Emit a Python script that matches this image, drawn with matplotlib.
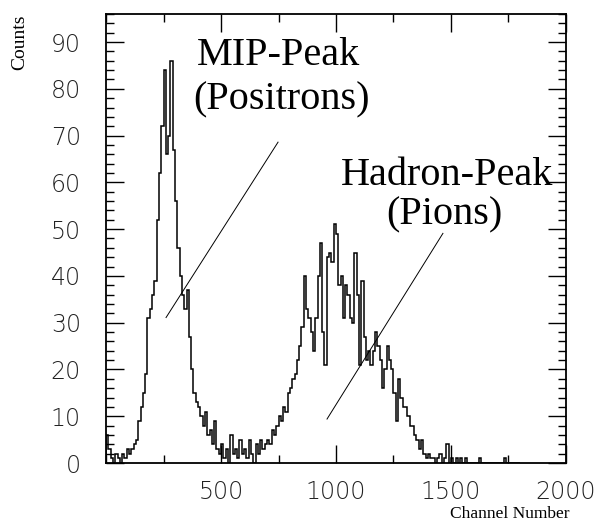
import numpy as np
import matplotlib.pyplot as plt
from matplotlib.ticker import MultipleLocator

# histogram, 10 channels per bin, starting at channel 0
bin_width = 10
counts = [
    6, 3, 1, 0, 2, 1, 0, 2, 1, 3,            # 0 - 90
    2, 3, 4, 5, 9, 12, 15, 19, 31, 33,       # 100 - 190
    36, 39, 52, 62, 72, 84, 66, 70, 86, 67,  # 200 - 290
    56, 46, 40, 36, 33, 37, 27, 20, 15, 13,  # 300 - 390
    12, 10, 8, 11, 6, 7, 4, 9, 3, 2,         # 400 - 490
    4, 1, 3, 0, 6, 2, 3, 1, 5, 2,            # 500 - 590
    3, 1, 5, 2, 0, 4, 2, 5, 3, 4,            # 600 - 690
    5, 4, 7, 6, 8, 10, 9, 12, 11, 15,        # 700 - 790
    16, 18, 19, 22, 25, 29, 40, 33, 31, 28,  # 800 - 890
    24, 31, 40, 47, 28, 21, 44, 45, 43, 51,  # 900 - 990
    49, 38, 40, 31, 38, 36, 31, 30, 45, 36,  # 1000 - 1090
    21, 39, 27, 22, 24, 21, 24, 28, 25, 22,  # 1100 - 1190
    16, 20, 25, 22, 20, 15, 9, 18, 14, 12,   # 1200 - 1290
    12, 10, 8, 8, 6, 5, 3, 5, 2, 1,          # 1300 - 1390
    2, 1, 1, 0, 1, 2, 0, 1, 4, 0,            # 1400 - 1490
    1, 0, 1, 0, 1, 0, 1, 0, 0, 0,            # 1500 - 1590
    0, 0, 1, 0, 0, 0, 0, 0, 0, 0,            # 1600 - 1690
    0, 0, 0, 1, 0, 0, 0, 0, 0, 0,            # 1700 - 1790
]

x_ticks = [500, 1000, 1500, 2000]
y_ticks = [0, 10, 20, 30, 40, 50, 60, 70, 80, 90]

# annotations: text, anchor (channel, counts)
labels = [
    ("MIP-Peak", 396, 85.1),
    ("(Positrons)", 378, 75.6),
    ("Hadron-Peak", 1022, 59.4),
    ("(Pions)", 1217, 51.0),
]
leaders = [
    ((261, 748), (31.1, 68.6)),
    ((961, 1465), (9.4, 49.1)),
]

edges = np.arange(len(counts) + 1) * bin_width

fig = plt.figure(figsize=(5.97, 5.24), dpi=100)
ax = fig.add_axes([0.1776, 0.1164, 0.948 - 0.1776, 0.9733 - 0.1164])

ax.stairs(counts, edges, color='black', linewidth=1.1)

ax.set_xlim(0, 2000)
ax.set_ylim(0, 96)
ax.set_xticks(x_ticks)
ax.set_yticks(y_ticks)
ax.xaxis.set_minor_locator(MultipleLocator(250))
ax.yaxis.set_minor_locator(MultipleLocator(2))
ax.tick_params(which='both', direction='in', top=True, right=True, width=1.0)
ax.tick_params(which='major', length=13)
ax.tick_params(which='minor', length=6)
ax.tick_params(axis='y', which='major', pad=18, labelsize=17)
ax.tick_params(axis='x', which='major', pad=12, labelsize=17)
for lab in ax.get_xticklabels() + ax.get_yticklabels():
    lab.set_fontweight('light')
    lab.set_color('#222222')
for spine in ax.spines.values():
    spine.set_linewidth(1.3)

for txt, x, y in labels:
    ax.text(x, y, txt, family='Liberation Serif', fontsize=29,
            ha='left', va='baseline')
for xs, ys in leaders:
    ax.plot(xs, ys, color='black', linewidth=0.7)

fig.text(20 / 597, 1 - 42 / 524, "Counts", family='Liberation Serif',
         fontsize=14, rotation=90, ha='center', va='center')
fig.text(570 / 597, 1 - 514 / 524, "Channel Number", family='Liberation Serif',
         fontsize=12.5, ha='right', va='center')

plt.savefig("out.png")
